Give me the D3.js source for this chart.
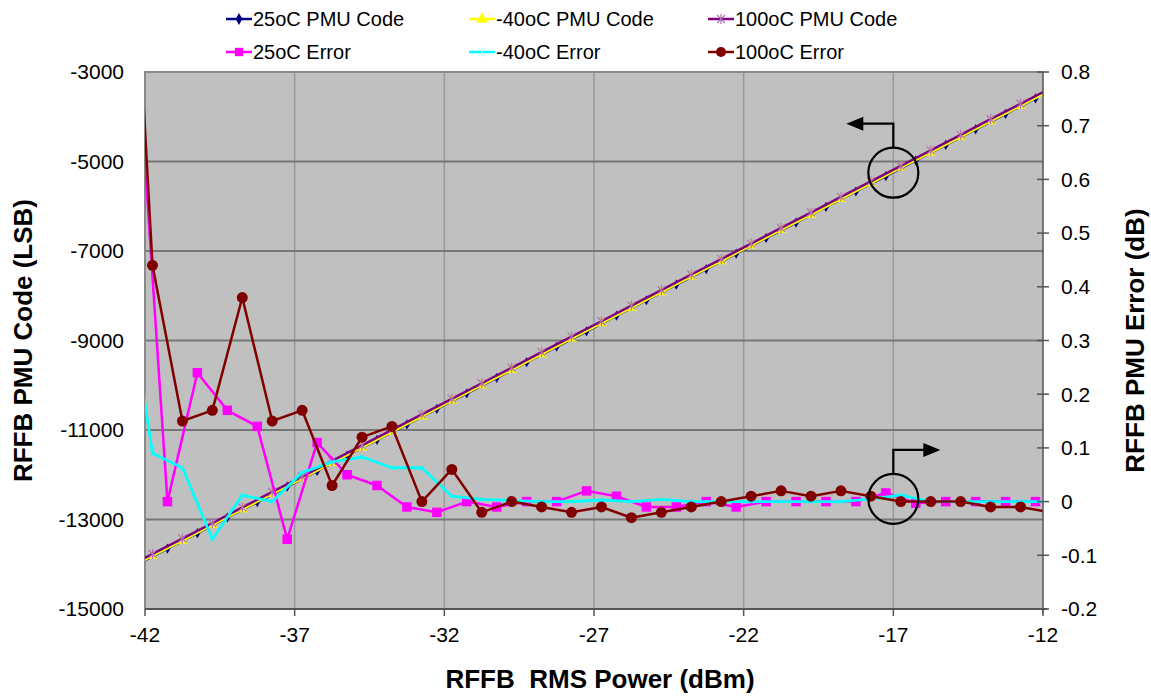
<!DOCTYPE html>
<html>
<head>
<meta charset="utf-8">
<title>RFFB PMU Code and Error</title>
<style>
  body { margin: 0; background: #fff; }
  svg text { font-family: "Liberation Sans", Arial, sans-serif; fill: #000; }
</style>
</head>
<body>
<div id="chart"></div>
<script src="https://d3js.org/d3.v7.min.js"></script>
<script>
// ---- data ----
var xTicks = [-42, -37, -32, -27, -22, -17, -12];
var leftTicks = [-15000, -13000, -11000, -9000, -7000, -5000, -3000];
var rightTicks = [-0.2, -0.1, 0, 0.1, 0.2, 0.3, 0.4, 0.5, 0.6, 0.7, 0.8];
var rightLabels = ["-0.2", "-0.1", "0", "0.1", "0.2", "0.3", "0.4", "0.5", "0.6", "0.7", "0.8"];

// input power used for the 25oC sweep
var power25 = [-42.25, -41.25, -40.25, -39.25, -38.25, -37.25, -36.25, -35.25, -34.25, -33.25,
  -32.25, -31.25, -30.25, -29.25, -28.25, -27.25, -26.25, -25.25, -24.25, -23.25,
  -22.25, -21.25, -20.25, -19.25, -18.25, -17.25, -16.25, -15.25, -14.25, -13.25, -12.25];
// input power used for the -40oC and 100oC sweeps
var powerHC = [-42.75, -41.75, -40.75, -39.75, -38.75, -37.75, -36.75, -35.75, -34.75, -33.75,
  -32.75, -31.75, -30.75, -29.75, -28.75, -27.75, -26.75, -25.75, -24.75, -23.75,
  -22.75, -21.75, -20.75, -19.75, -18.75, -17.75, -16.75, -15.75, -14.75, -13.75, -12.75, -11.75];

var code25 = [-14000, -13650, -13305, -12955, -12610, -12265, -11915, -11570, -11220, -10875,
  -10530, -10180, -9835, -9485, -9140, -8795, -8445, -8100, -7750, -7405,
  -7060, -6710, -6365, -6015, -5670, -5325, -4975, -4630, -4280, -3935, -3590];
var codeM40 = [-14165, -13815, -13470, -13120, -12775, -12430, -12080, -11735, -11390, -11040,
  -10695, -10345, -10000, -9655, -9305, -8960, -8610, -8265, -7920, -7570,
  -7225, -6875, -6530, -6185, -5835, -5490, -5140, -4795, -4450, -4100, -3755, -3410];
var code100 = [-14120, -13770, -13425, -13080, -12730, -12385, -12040, -11690, -11345, -10995,
  -10650, -10305, -9955, -9610, -9260, -8915, -8570, -8220, -7875, -7525,
  -7180, -6835, -6485, -6140, -5790, -5445, -5100, -4750, -4405, -4055, -3710, -3365];

var err25 = [0.84, 0, 0.24, 0.17, 0.14, -0.07, 0.11, 0.05, 0.03, -0.01,
  -0.02, 0, -0.01, 0, 0, 0.02, 0.01, -0.01, -0.01, 0,
  -0.01, 0, 0, 0, 0, 0.016, -0.003, 0, 0, 0, 0];
var errM40 = [0.46, 0.09, 0.063, -0.07, 0.012, 0, 0.054, 0.074, 0.083, 0.063,
  0.063, 0.01, 0.004, 0.002, 0, 0, 0.003, 0, 0.004, 0,
  0, 0, 0, 0, 0, 0.005, 0.012, 0, 0, 0, 0, 0];
var err100 = [1.45, 0.44, 0.15, 0.17, 0.38, 0.15, 0.17, 0.03, 0.12, 0.14,
  0, 0.06, -0.02, 0, -0.01, -0.02, -0.01, -0.03, -0.02, -0.01,
  0, 0.01, 0.02, 0.01, 0.02, 0.01, 0, 0, 0, -0.01, -0.01, -0.02];

var seriesNames = ["25oC PMU Code", "-40oC PMU Code", "100oC PMU Code",
                   "25oC Error", "-40oC Error", "100oC Error"];

// ---- layout ----
var width = 1151, height = 698;
var pLeft = 145, pRight = 1043, pTop = 72, pBottom = 609;

var x = d3.scaleLinear().domain([-42, -12]).range([pLeft, pRight]);
var yL = d3.scaleLinear().domain([-15000, -3000]).range([pBottom, pTop]);
var yR = d3.scaleLinear().domain([-0.2, 0.8]).range([pBottom, pTop]);

var svg = d3.select('#chart').append('svg')
  .attr('width', width).attr('height', height);

svg.append('defs').append('clipPath').attr('id', 'plotclip')
  .append('rect').attr('x', pLeft).attr('y', pTop)
  .attr('width', pRight - pLeft).attr('height', pBottom - pTop);

svg.append('rect')
  .attr('x', pLeft).attr('y', pTop)
  .attr('width', pRight - pLeft).attr('height', pBottom - pTop)
  .attr('fill', '#c0c0c0');

// gridlines
svg.append('g').selectAll('line').data(xTicks.slice(1, -1)).enter().append('line')
  .attr('x1', d => x(d)).attr('x2', d => x(d))
  .attr('y1', pTop).attr('y2', pBottom)
  .attr('stroke', '#9a9a9a').attr('stroke-width', 1.5);
svg.append('g').selectAll('line').data(leftTicks.slice(1, -1)).enter().append('line')
  .attr('x1', pLeft).attr('x2', pRight)
  .attr('y1', d => yL(d)).attr('y2', d => yL(d))
  .attr('stroke', '#777').attr('stroke-width', 2);

// plot border (top / left)
svg.append('path')
  .attr('d', 'M' + pLeft + ',' + pBottom + 'V' + pTop + 'H' + pRight)
  .attr('fill', 'none').attr('stroke', '#8a8a8a').attr('stroke-width', 2);

// ---- series ----
var plot = svg.append('g').attr('clip-path', 'url(#plotclip)');

function pts(xs, ys) { return xs.map(function(v, i) { return [v, ys[i]]; }); }

function drawLine(data, yScale, color, w) {
  var line = d3.line().x(d => x(d[0])).y(d => yScale(d[1]));
  plot.append('path').datum(data)
    .attr('d', line).attr('fill', 'none')
    .attr('stroke', color).attr('stroke-width', w)
    .attr('stroke-linejoin', 'round');
}

var asterisk = 'M-4,-4L4,4M-4,4L4,-4M0,-5V5';
var smallStar = 'M-2,-2L2,2M-2,2L2,-2';

function drawMarkers(data, yScale, kind) {
  var g = plot.append('g');
  var sel = g.selectAll('path').data(data).enter().append('path')
    .attr('transform', d => 'translate(' + x(d[0]) + ',' + yScale(d[1]) + ')');
  if (kind === 'diamond') {
    sel.attr('d', d3.symbol().type(d3.symbolDiamond).size(30)).attr('fill', '#000080');
  } else if (kind === 'triangle') {
    sel.attr('d', d3.symbol().type(d3.symbolTriangle).size(50)).attr('fill', '#ffff00');
  } else if (kind === 'asterisk') {
    sel.attr('d', asterisk).attr('fill', 'none').attr('stroke', '#b070b0').attr('stroke-width', 1.2);
  } else if (kind === 'square') {
    sel.attr('d', d3.symbol().type(d3.symbolSquare).size(90)).attr('fill', '#ff00ff');
  } else if (kind === 'cross') {
    sel.attr('d', smallStar).attr('fill', 'none').attr('stroke', '#00ffff').attr('stroke-width', 1);
  } else if (kind === 'circle') {
    sel.attr('d', d3.symbol().type(d3.symbolCircle).size(95)).attr('fill', '#800000');
  }
}

var s25 = pts(power25, code25), sM40 = pts(powerHC, codeM40), s100 = pts(powerHC, code100);
drawLine(s25, yL, '#000080', 2.5);
drawMarkers(s25, yL, 'diamond');
drawLine(sM40, yL, '#ffff00', 2.5);
drawMarkers(sM40, yL, 'triangle');
drawLine(s100, yL, '#800080', 2.5);
drawMarkers(s100, yL, 'asterisk');

var e25 = pts(power25, err25), eM40 = pts(powerHC, errM40), e100 = pts(powerHC, err100);
drawLine(e25, yR, '#ff00ff', 2.5);
drawMarkers(e25, yR, 'square');
drawLine(eM40, yR, '#00ffff', 2.8);
drawMarkers(eM40, yR, 'cross');
drawLine(e100, yR, '#800000', 2.5);
drawMarkers(e100, yR, 'circle');

// ---- axes ----
var xAxis = svg.append('g');
xAxis.append('line').attr('x1', pLeft).attr('x2', pRight + 4)
  .attr('y1', pBottom).attr('y2', pBottom)
  .attr('stroke', '#555').attr('stroke-width', 2);
xAxis.selectAll('.tk').data(xTicks).enter().append('line')
  .attr('x1', d => x(d)).attr('x2', d => x(d))
  .attr('y1', pBottom).attr('y2', pBottom + 7)
  .attr('stroke', '#555').attr('stroke-width', 1.5);
xAxis.selectAll('text').data(xTicks).enter().append('text')
  .attr('x', d => x(d)).attr('y', 642)
  .attr('text-anchor', 'middle').attr('font-size', 21)
  .text(d => String(d));

svg.append('g').selectAll('text').data(leftTicks).enter().append('text')
  .attr('x', 124).attr('y', d => yL(d))
  .attr('dy', '0.35em').attr('text-anchor', 'end').attr('font-size', 21)
  .text(d => String(d));

var rAxis = svg.append('g');
rAxis.append('line').attr('x1', pRight).attr('x2', pRight)
  .attr('y1', pTop).attr('y2', pBottom + 4)
  .attr('stroke', '#555').attr('stroke-width', 1.5);
rAxis.selectAll('.tk').data(rightTicks).enter().append('line')
  .attr('x1', pRight - 6).attr('x2', pRight + 6)
  .attr('y1', d => yR(d)).attr('y2', d => yR(d))
  .attr('stroke', '#555').attr('stroke-width', 1.5);
rAxis.selectAll('text').data(rightTicks).enter().append('text')
  .attr('x', 1061).attr('y', d => yR(d))
  .attr('dy', '0.35em').attr('font-size', 21)
  .text((d, i) => rightLabels[i]);

// axis titles
svg.append('text')
  .attr('transform', 'translate(32,' + ((pTop + pBottom) / 2) + ') rotate(-90)')
  .attr('text-anchor', 'middle').attr('font-size', 26).attr('font-weight', 'bold')
  .text('RFFB PMU Code (LSB)');
svg.append('text')
  .attr('transform', 'translate(1144,' + ((pTop + pBottom) / 2) + ') rotate(-90)')
  .attr('text-anchor', 'middle').attr('font-size', 26).attr('font-weight', 'bold')
  .text('RFFB PMU Error (dB)');
svg.append('text')
  .attr('x', 600).attr('y', 688)
  .attr('text-anchor', 'middle').attr('font-size', 26).attr('font-weight', 'bold')
  .style('white-space', 'pre')
  .text('RFFB  RMS Power (dBm)');

// ---- annotations: circles with arrows pointing to each axis ----
function callout(cx, cy, dir) {
  var g = svg.append('g').attr('fill', 'none').attr('stroke', '#000').attr('stroke-width', 2.2);
  var r = 25;
  g.append('circle').attr('cx', cx).attr('cy', cy).attr('r', r);
  var yTop = cy - r - 24;
  var tip = cx + dir * 47;
  g.append('path').attr('d', 'M' + cx + ',' + (cy - r) + 'V' + yTop + 'H' + (tip - dir * 14));
  svg.append('path')
    .attr('d', 'M' + tip + ',' + yTop + 'L' + (tip - dir * 17) + ',' + (yTop - 7) +
      'L' + (tip - dir * 17) + ',' + (yTop + 7) + 'Z')
    .attr('fill', '#000');
}
callout(x(-17), yL(-5250), -1);
callout(x(-17), yR(0.005), 1);

// ---- legend ----
var legendItems = [
  { name: seriesNames[0], color: '#000080', kind: 'diamond', col: 0, row: 0 },
  { name: seriesNames[1], color: '#ffff00', kind: 'triangle', col: 1, row: 0 },
  { name: seriesNames[2], color: '#800080', kind: 'asterisk', col: 2, row: 0 },
  { name: seriesNames[3], color: '#ff00ff', kind: 'square', col: 0, row: 1 },
  { name: seriesNames[4], color: '#00ffff', kind: 'cross', col: 1, row: 1 },
  { name: seriesNames[5], color: '#800000', kind: 'circle', col: 2, row: 1 }
];
var colX = [226, 469, 708];
var rowY = [19, 52];

var lg = svg.append('g');
legendItems.forEach(function(it) {
  var gx = colX[it.col], gy = rowY[it.row];
  var g = lg.append('g').attr('transform', 'translate(' + gx + ',' + gy + ')');
  g.append('line').attr('x1', 0).attr('x2', 26).attr('y1', 0).attr('y2', 0)
    .attr('stroke', it.color).attr('stroke-width', 2.5);
  var m = g.append('path').attr('transform', 'translate(13,0)');
  if (it.kind === 'diamond') m.attr('d', d3.symbol().type(d3.symbolDiamond).size(40)).attr('fill', it.color);
  else if (it.kind === 'triangle') m.attr('d', d3.symbol().type(d3.symbolTriangle).size(60)).attr('fill', it.color);
  else if (it.kind === 'asterisk') m.attr('d', asterisk).attr('fill', 'none').attr('stroke', '#b070b0').attr('stroke-width', 1.2);
  else if (it.kind === 'square') m.attr('d', d3.symbol().type(d3.symbolSquare).size(70)).attr('fill', it.color);
  else if (it.kind === 'cross') m.attr('d', asterisk).attr('fill', 'none').attr('stroke', '#a0ffff').attr('stroke-width', 1);
  else m.attr('d', d3.symbol().type(d3.symbolCircle).size(80)).attr('fill', it.color);
  g.append('text').attr('x', 27).attr('y', 0).attr('dy', '0.36em')
    .attr('font-size', 20).text(it.name);
});
</script>
</body>
</html>
